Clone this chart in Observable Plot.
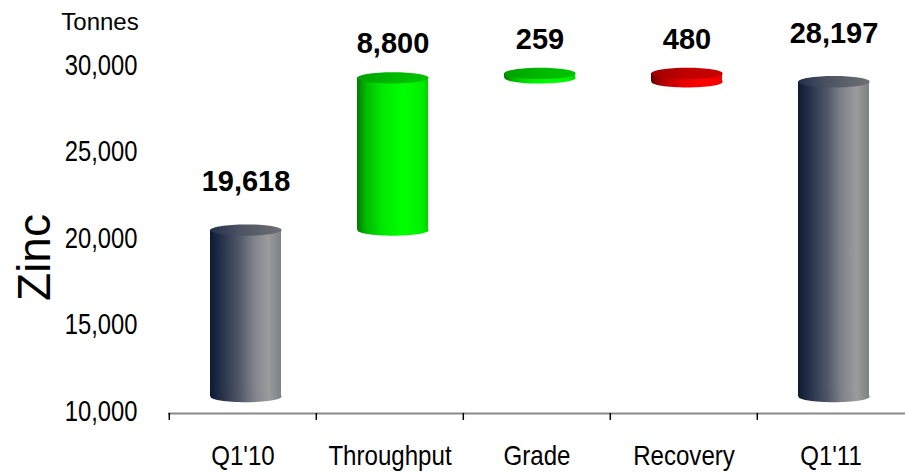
<!DOCTYPE html>
<html>
<head>
<meta charset="utf-8">
<script src="https://cdn.jsdelivr.net/npm/d3@7"></script>
<script src="https://cdn.jsdelivr.net/npm/@observablehq/plot@0.6"></script>
<style>
  html, body { margin: 0; padding: 0; background: #fff; }
  #chart svg { display: block; }
</style>
</head>
<body>
<div id="chart"></div>
<script>
// ---- data ----
const yBase = 10000;
const categories = ["Q1'10", "Throughput", "Grade", "Recovery", "Q1'11"];
const values = [19618, 8800, 259, -480, 28197];
const kinds = ["total", "up", "up", "down", "total"];
const valueLabels = ["19,618", "8,800", "259", "480", "28,197"];
const yTicks = [10000, 15000, 20000, 25000, 30000];
const yDomain = [10000, 30000];

// waterfall rows
let running = 0;
const rows = categories.map((cat, i) => {
  let start, end;
  if (kinds[i] === "total") { start = yBase; end = values[i]; }
  else { start = running; end = running + values[i]; }
  running = end;
  return {cat, lo: Math.min(start, end), hi: Math.max(start, end), kind: kinds[i], label: valueLabels[i]};
});

const font = "'Liberation Sans', Arial, sans-serif";

// elliptical symbol for cylinder caps
const ellipse = {
  draw(ctx, size) {
    const rx = Math.sqrt(size / Math.PI), ry = rx * 0.16, k = 0.5523;
    ctx.moveTo(rx, 0);
    ctx.bezierCurveTo(rx, ry * k, rx * k, ry, 0, ry);
    ctx.bezierCurveTo(-rx * k, ry, -rx, ry * k, -rx, 0);
    ctx.bezierCurveTo(-rx, -ry * k, -rx * k, -ry, 0, -ry);
    ctx.bezierCurveTo(rx * k, -ry, rx, -ry * k, rx, 0);
    ctx.closePath();
  }
};

const shift = {dx: 3, dy: -15};
const R = 35.7;

const chart = Plot.plot({
  width: 905,
  height: 474,
  marginLeft: 168,
  marginRight: 0,
  marginTop: 65,
  marginBottom: 63,
  style: {fontFamily: font, color: "#000", background: "#fff"},
  x: {type: "band", domain: categories, padding: 0},
  y: {domain: yDomain},
  color: {type: "identity"},
  marks: [
    Plot.ruleY([yBase], {dy: 2, stroke: "#8a8a8a", strokeWidth: 2}),
    Plot.ruleX(categories, {x: d => d, dx: -73.7, y1: yBase, y2: 9600, dy: 2, stroke: "#000", strokeWidth: 1.5}),
    Plot.axisY(yTicks, {tickSize: 0, tickPadding: 31, fontSize: 29, tickFormat: d3.format(","), label: null}),
    Plot.axisX({tickSize: 0, tickPadding: 34, fontSize: 28, label: null}),
    Plot.barY(rows, {x: "cat", y1: "lo", y2: "hi", fill: d => `url(#body-${d.kind})`, insetLeft: 38, insetRight: 38, ...shift}),
    Plot.dot(rows, {x: "cat", y: "lo", r: R, symbol: ellipse, fill: d => `url(#body-${d.kind})`, ...shift}),
    Plot.dot(rows, {x: "cat", y: "hi", r: R, symbol: ellipse, fill: d => `url(#cap-${d.kind})`, ...shift}),
    Plot.text(rows.filter(d => d.kind === "total"), {x: "cat", y: "hi", text: "label", dx: 3, dy: -63, fontSize: 29, fontWeight: "bold", fill: "#000", ariaLabel: "value label"}),
    Plot.text(rows.filter(d => d.kind !== "total"), {x: "cat", y: "hi", text: "label", dx: 3, dy: -49, fontSize: 29, fontWeight: "bold", fill: "#000", ariaLabel: "value label"}),
    Plot.text(["Tonnes"], {frameAnchor: "top-left", text: d => d, dx: -68.5, dy: -43, lineAnchor: "middle", fontSize: 24, textAnchor: "middle", fill: "#000"}),
    Plot.text(["Zinc"], {frameAnchor: "left", text: d => d, dx: -133, dy: 19, rotate: -90, lineAnchor: "middle", fontSize: 46, textAnchor: "middle", fill: "#000", ariaLabel: "zinc label"})
  ]
});

// gradients for the cylinder look
const svg = d3.select(chart);
const defs = svg.insert("defs", ":first-child");
function grad(id, stops) {
  const g = defs.append("linearGradient").attr("id", id).attr("x1", "0").attr("x2", "1").attr("y1", "0").attr("y2", "0");
  stops.forEach(([o, c]) => g.append("stop").attr("offset", o).attr("stop-color", c));
}
grad("body-total", [[0, "#0e1a31"], [0.12, "#1f2b44"], [0.4, "#4e5567"], [0.62, "#80838b"], [0.82, "#9a9b9d"], [1, "#7f8082"]]);
grad("cap-total", [[0, "#22304c"], [0.4, "#4c5262"], [1, "#6e7074"]]);
grad("body-up", [[0, "#007a00"], [0.12, "#00b800"], [0.35, "#00e800"], [0.65, "#00ff00"], [0.9, "#00f000"], [1, "#00d400"]]);
grad("cap-up", [[0, "#00a000"], [0.5, "#00b800"], [1, "#00c400"]]);
grad("body-down", [[0, "#6a0000"], [0.15, "#b00000"], [0.45, "#e80000"], [0.75, "#ff0000"], [1, "#f00000"]]);
grad("cap-down", [[0, "#a00000"], [0.5, "#c00000"], [1, "#c80000"]]);

document.getElementById("chart").appendChild(chart);

// condensed lettering like the original (narrow face not installed)
function squeeze(selector, factor) {
  svg.selectAll(selector).each(function () {
    const L = this.getComputedTextLength();
    this.setAttribute("textLength", (L * factor).toFixed(1));
    this.setAttribute("lengthAdjust", "spacingAndGlyphs");
  });
}
squeeze('g[aria-label="y-axis tick label"] text', 0.82);
squeeze('g[aria-label="x-axis tick label"] text', 0.86);
squeeze('g[aria-label="value label"] text', 0.84);
squeeze('g[aria-label="zinc label"] text', 0.92);
</script>
</body>
</html>
